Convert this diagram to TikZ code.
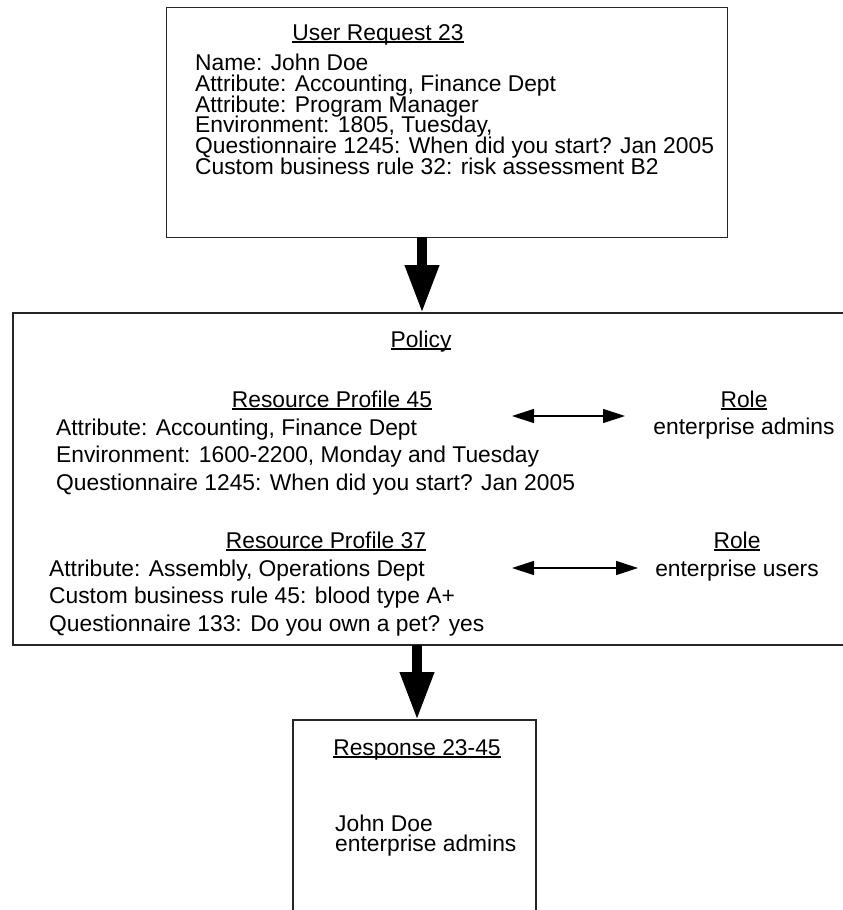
\documentclass[tikz,border=0pt]{standalone}
\usepackage{fontspec}
\setmainfont{Liberation Sans}
\usetikzlibrary{arrows.meta}
\newsavebox\ulbox
\newcommand\myul[1]{\sbox\ulbox{#1}\rlap{\usebox\ulbox}\rule[-2.6pt]{\wd\ulbox}{1.2pt}}
\begin{document}
\begin{tikzpicture}[x=1pt,y=-1pt,
  txt/.style={inner sep=0pt, font=\fontsize{22.8}{24}\selectfont},
  lt/.style={txt, anchor=base west},
  ct/.style={txt, anchor=base},
  boxline/.style={draw=black!85, line width=1.3pt},
  bigarrow/.style={line width=10pt, -{Triangle[length=48pt,width=32pt]}},
  dblarrow/.style={line width=1.3pt, {Triangle[length=22pt,width=14pt]}-{Triangle[length=22pt,width=14pt]}}
]
\fill[white] (0,0) rectangle (843,910);
\useasboundingbox (0,0) rectangle (843,910);

% User request box
\node[boxline, anchor=north west, minimum width=561pt, minimum height=230pt, inner sep=0pt] (req) at (166,7) {};
\node[ct] (reqt) at (378,40) {\myul{User Request 23}};
\node[lt] (r1) at (195,70) {Name: John Doe};
\node[lt] (r2) at (195,91) {Attribute: Accounting, Finance Dept};
\node[lt] (r3) at (195,112) {Attribute: Program Manager};
\node[lt] (r4) at (195,132) {Environment: 1805, Tuesday,};
\node[lt] (r5) at (195,153) {Questionnaire 1245: When did you start? Jan 2005};
\node[lt] (r6) at (195,174) {Custom business rule 32: risk assessment B2};

% Policy box (open to the right)
\draw[boxline] (843,313) -- (13,313) -- (13,645) -- (843,645);
\coordinate (poltop) at (422,313);
\coordinate (polbot) at (417,645);
\coordinate (reqbot) at (422,237);
\node[ct] (polt) at (421,347) {\myul{Policy}};

\node[ct] (rp45) at (332,407) {\myul{Resource Profile 45}};
\node[lt] (p1) at (56,435) {Attribute: Accounting, Finance Dept};
\node[lt] (p2) at (56,462) {Environment: 1600-2200, Monday and Tuesday};
\node[lt] (p3) at (56,490) {Questionnaire 1245: When did you start? Jan 2005};

\node[ct] (role1) at (744,407) {\myul{Role}};
\node[ct] (role1t) at (744,434) {enterprise admins};

\node[ct] (rp37) at (326,548) {\myul{Resource Profile 37}};
\node[lt] (q1) at (49,576) {Attribute: Assembly, Operations Dept};
\node[lt] (q2) at (49,603) {Custom business rule 45: blood type A+};
\node[lt] (q3) at (49,631) {Questionnaire 133: Do you own a pet? yes};

\node[ct] (role2) at (737,548) {\myul{Role}};
\node[ct] (role2t) at (737,576) {enterprise users};

\coordinate (d1a) at (512,416);
\coordinate (d1b) at (625,416);
\coordinate (d2a) at (512,568);
\coordinate (d2b) at (638,568);
\draw[dblarrow] (d1a) -- (d1b);
\draw[dblarrow] (d2a) -- (d2b);

% Response box (open at the bottom)
\draw[boxline] (293,912) -- (293,720) -- (536,720) -- (536,912);
\coordinate (restop) at (417,720);
\node[ct] (rest) at (417,755) {\myul{Response 23-45}};
\node[lt] (s1) at (335,831) {John Doe};
\node[lt] (s2) at (335,851) {enterprise admins};

% thick arrows
\draw[bigarrow] (reqbot) -- (poltop);
\draw[bigarrow] (polbot) -- (restop);
\end{tikzpicture}
\end{document}
